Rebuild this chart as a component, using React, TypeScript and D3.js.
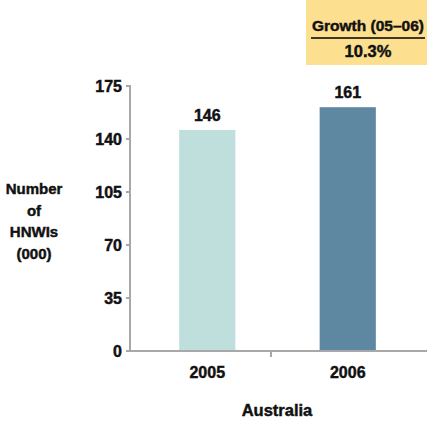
import React from "react";
import * as d3 from "d3";

const categories = ["2005", "2006"];
const values = [146, 161];
const yTicks = [0, 35, 70, 105, 140, 175];
const barColors = ["#BFDFDD", "#5E87A1"];
const yTitle = ["Number", "of", "HNWIs", "(000)"];
const xTitle = "Australia";
const growthTitle = "Growth (05–06)";
const growthValue = "10.3%";

const FONT = "'Liberation Sans', Arial, sans-serif";

export default function App() {
  const W = 427, H = 422;
  const x0 = 130, axisEnd = 412;
  const y0 = 351, y1 = 86;
  const x = d3.scaleBand<string>().domain(categories).range([x0, 425]).paddingInner(0.6).paddingOuter(0.35);
  const y = d3.scaleLinear().domain([0, 175]).range([y0, y1]);
  const axisColor = "#A8A8A8";
  const ts = { fill: "#111", stroke: "#111", strokeWidth: 0.45 };
  return (
    <svg width={W} height={H} style={{ position: "absolute", left: 0, top: 0, fontFamily: FONT, fontWeight: "bold" }}>
      <rect x={306} y={0} width={121} height={65} fill="#FDDF90" />
      <text x={368} y={31} textAnchor="middle" fontSize={15.5} {...ts}>{growthTitle}</text>
      <line x1={311} x2={425} y1={38} y2={38} stroke="#000" strokeWidth={1.5} />
      <text x={368} y={57} textAnchor="middle" fontSize={16.5} {...ts}>{growthValue}</text>

      {categories.map((c, i) => (
        <g key={c}>
          <rect x={x(c)} y={y(values[i])} width={x.bandwidth()} height={y0 - y(values[i])} fill={barColors[i]} />
          <text x={(x(c) as number) + x.bandwidth() / 2} y={y(values[i]) - 9} textAnchor="middle" fontSize={16} {...ts}>{values[i]}</text>
          <text x={(x(c) as number) + x.bandwidth() / 2} y={378} textAnchor="middle" fontSize={16} {...ts}>{c}</text>
        </g>
      ))}

      <line x1={x0} x2={x0} y1={y1 - 1} y2={y0 + 1} stroke={axisColor} strokeWidth={2} />
      <line x1={x0 - 4} x2={427} y1={y0} y2={y0} stroke={axisColor} strokeWidth={2} />
      {yTicks.map(t => (
        <g key={t}>
          <line x1={x0 - 4} x2={x0} y1={y(t)} y2={y(t)} stroke={axisColor} strokeWidth={2} />
          <text x={x0 - 8} y={y(t) + 6} textAnchor="end" fontSize={16} {...ts}>{t}</text>
        </g>
      ))}
      <line x1={(x0 + axisEnd) / 2} x2={(x0 + axisEnd) / 2} y1={y0} y2={y0 + 6} stroke={axisColor} strokeWidth={2} />

      {yTitle.map((t, i) => (
        <text key={t} x={34} y={194 + i * 21.5} textAnchor="middle" fontSize={15} {...ts}>{t}</text>
      ))}
      <text x={277} y={416} textAnchor="middle" fontSize={16.5} {...ts}>{xTitle}</text>
    </svg>
  );
}
